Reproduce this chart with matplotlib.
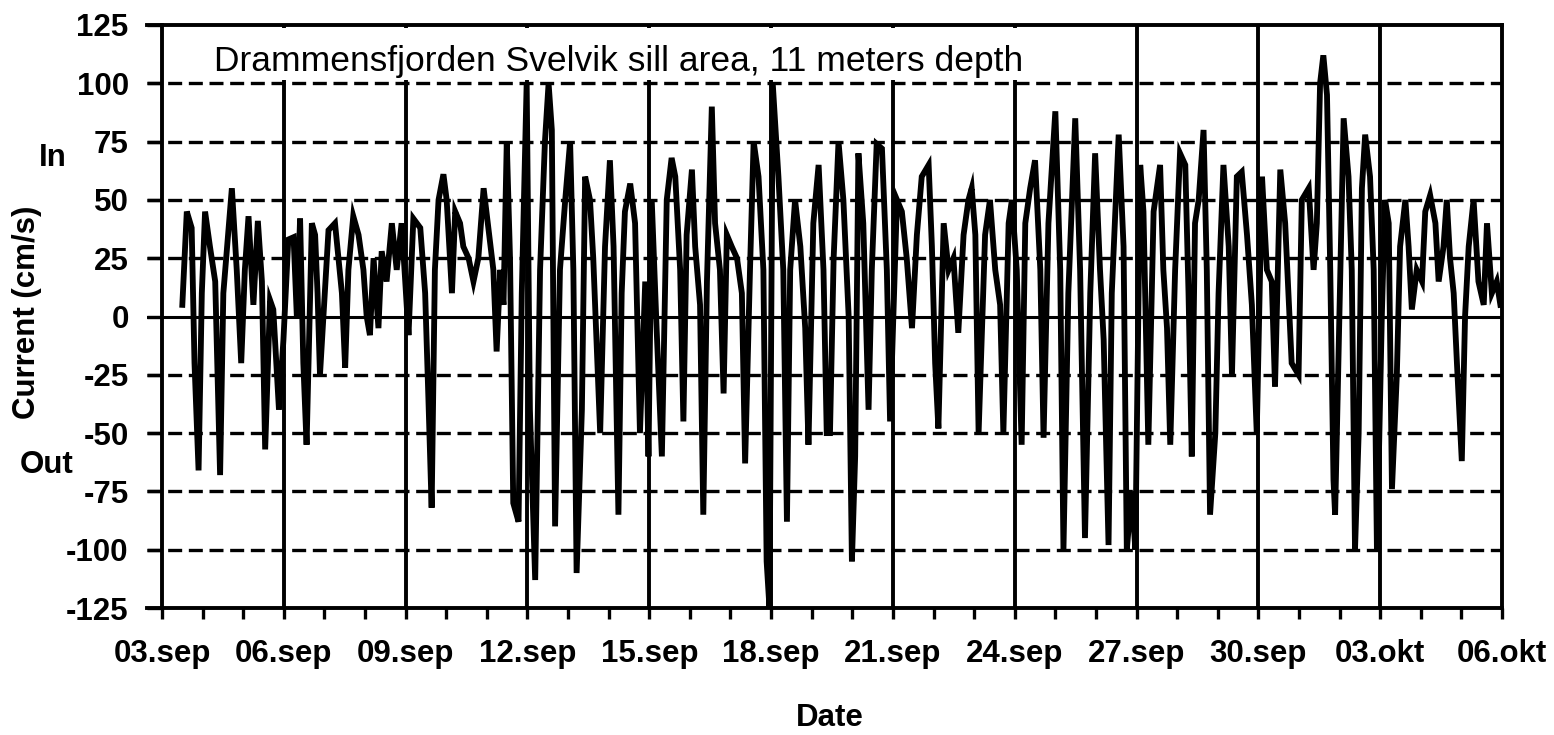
import matplotlib
matplotlib.use("Agg")
import matplotlib.pyplot as plt
from matplotlib.patches import Rectangle
from matplotlib.ticker import FixedLocator, MultipleLocator

# ---------------- data (days after 03.sep 00:00, current in cm/s) ----------------
days = [
    0.50, 0.61, 0.73, 0.80, 0.90, 0.98, 1.06, 1.18, 1.31, 1.43, 1.51, 1.72, 1.84, 1.95,
    2.04, 2.13, 2.25, 2.36, 2.46, 2.54, 2.66, 2.74, 2.88, 2.99, 3.11, 3.24, 3.32, 3.40,
    3.48, 3.56, 3.69, 3.77, 3.83, 3.89,
    4.10, 4.26, 4.43, 4.51, 4.59, 4.71, 4.84, 4.96, 5.04, 5.12, 5.21, 5.33, 5.41, 5.53,
    5.66, 5.78, 5.90, 5.99, 6.07, 6.19, 6.36, 6.48, 6.56, 6.64, 6.72, 6.81, 6.93, 7.01,
    7.14, 7.22, 7.34, 7.42, 7.55, 7.67, 7.79, 7.92,
    8.16, 8.24, 8.33, 8.41, 8.49, 8.57, 8.65, 8.78, 8.86, 8.98, 9.06, 9.19, 9.31, 9.43,
    9.52, 9.60, 9.68, 9.80, 9.93, 10.05, 10.13, 10.21, 10.34, 10.42, 10.54, 10.62, 10.79,
    10.91, 11.03, 11.12, 11.24, 11.32, 11.40, 11.53, 11.65, 11.77, 11.90, 11.98,
    12.06, 12.18, 12.31, 12.43, 12.55, 12.64, 12.76, 12.84, 12.92, 13.05, 13.13, 13.25,
    13.33, 13.42, 13.54, 13.62, 13.74, 13.83, 13.91, 14.03, 14.16, 14.28, 14.36, 14.48,
    14.57, 14.69, 14.81, 14.89, 14.96, 15.04, 15.18, 15.30, 15.39, 15.47, 15.59, 15.72,
    15.84, 15.92, 16.04,
    16.17, 16.29, 16.37, 16.45, 16.54, 16.66, 16.78, 16.91, 16.99, 17.07, 17.15, 17.27,
    17.40, 17.48, 17.60, 17.73, 17.85, 17.93, 18.10, 18.22, 18.34, 18.47, 18.59, 18.71,
    18.88, 18.96, 19.04, 19.12, 19.25, 19.37, 19.49, 19.61, 19.74, 19.86, 19.94, 20.03,
    20.11,
    20.27, 20.39, 20.52, 20.64, 20.72, 20.85, 20.93, 21.05, 21.17, 21.26, 21.38, 21.50,
    21.63, 21.71, 21.83, 22.00, 22.12, 22.20, 22.32, 22.49, 22.61, 22.73, 22.86, 22.98,
    23.10, 23.19, 23.31, 23.39, 23.56, 23.68, 23.76, 23.88, 23.97, 24.09, 24.17,
    24.29, 24.42, 24.58, 24.66, 24.75, 24.83, 24.95, 25.07, 25.20, 25.28, 25.36, 25.44,
    25.53, 25.65, 25.73, 25.81, 25.94, 26.02, 26.14, 26.27, 26.35, 26.47, 26.59, 26.72,
    26.84, 26.96, 27.09, 27.21, 27.33, 27.41, 27.54, 27.66, 27.74, 27.82, 27.99, 28.07,
    28.24,
    28.36, 28.44, 28.52, 28.60, 28.69, 28.77, 28.85, 28.89, 29.02, 29.10, 29.22, 29.30,
    29.38, 29.47, 29.55, 29.63, 29.75, 29.84, 29.92, 30.04, 30.12, 30.21, 30.29, 30.41,
    30.49, 30.62, 30.70, 30.78, 30.90, 31.03, 31.11, 31.23, 31.36, 31.44, 31.56, 31.64,
    31.72, 31.81, 31.89, 32.01, 32.09, 32.18, 32.30, 32.42, 32.55, 32.63, 32.75, 32.87,
    32.96,
]
current = [
    5, 45, 38, -20, -66, 10, 45, 30, 15, -68, 10, 55, 20, -20,
    20, 43, 5, 41, 15, -57, 7, 3, -40, -10, 33, 34, 0, 42,
    -20, -55, 40, 35, 10, -25,
    37, 40, 10, -22, 20, 43, 35, 20, 0, -8, 25, -5, 28, 15,
    40, 20, 40, 15, -8, 42, 38, 10, -35, -82, 20, 50, 61, 50,
    10, 45, 40, 30, 25, 15, 25, 55,
    20, -15, 20, 5, 75, 25, -80, -88, 10, 100, -40, -113, 20, 75,
    100, 80, -90, 20, 50, 75, 20, -110, -40, 60, 50, 25, -50,
    30, 67, 30, -85, 10, 45, 57, 40, -50, 15, -60,
    50, -5, -60, 50, 68, 60, 20, -45, 35, 63, 30, 5,
    -85, 15, 90, 40, 20, -33, 35, 30, 25, 10, -63, 20,
    75, 60, 20, -105, -125, 100, 60, 20, -88, 20, 50, 30,
    -5, -55, 40,
    65, 20, -50, -50, 25, 75, 50, 0, -105, -60, 70, 40,
    -40, 20, 74, 72, 20, -45, 50, 45, 25, -5, 35, 60,
    65, 30, -20, -48, 40, 20, 25, -7, 35, 50, 55, 35,
    -50,
    35, 50, 20, 5, -50, 40, 50, 20, -55, 40, 55, 67,
    20, -52, 40, 88, 20, -100, 10, 85, 20, -95, 10, 70,
    20, -10, -98, 10, 78, 30, -100, -75, -100, 65, 45,
    -55, 45, 65, 20, -5, -55, 20, 70, 65, 10, -60, 40,
    50, 80, 20, -85, -50, 10, 65, 30, -25, 60, 62, 35,
    5, -50, 60, 20, 15, -30, 63, 40, 10, -20, -25, 50,
    55,
    20, 40, 100, 112, 95, 20, -70, -85, 20, 85, 60, 20,
    -100, -50, 55, 78, 60, 20, -100, 0, 50, 40, -74, -25,
    30, 50, 30, 3, 20, 15, 45, 52, 40, 15, 30, 50,
    25, 10, -20, -62, 0, 30, 50, 15, 5, 40, 10, 15,
    5,
]

tick_days = [0, 3, 6, 9, 12, 15, 18, 21, 24, 27, 30, 33]
tick_labels = ["03.sep", "06.sep", "09.sep", "12.sep", "15.sep", "18.sep",
               "21.sep", "24.sep", "27.sep", "30.sep", "03.okt", "06.okt"]
y_ticks = [-125, -100, -75, -50, -25, 0, 25, 50, 75, 100, 125]
dash_levels = [-100, -75, -50, -25, 25, 50, 75, 100]
title = "Drammensfjorden Svelvik sill area, 11 meters depth"

# ---------------- figure ----------------
W, H = 1554, 735
fig = plt.figure(figsize=(W / 100, H / 100), dpi=100)
ax = fig.add_axes([147 / W, 1 - 608 / H, (1502 - 147) / W, (608 - 25) / H])

bold = dict(family="Liberation Sans", weight="bold", size=22.5)

ax.set_xlim(-0.37, 33.0)
ax.set_ylim(-125, 125)

# horizontal dashed gridlines and zero line
for lv in dash_levels:
    ax.axhline(lv, color="black", lw=2.4, dashes=(4.2, 2.0), zorder=1)
ax.axhline(0, color="black", lw=2.2, zorder=1)

# vertical gridlines at date ticks
for d in tick_days[1:-1]:
    ax.axvline(d, color="black", lw=2.8, zorder=1)

# white title box
ax.add_patch(Rectangle(((205 - 147) / 1355, (608 - 80) / 583), (1035 - 205) / 1355,
                       (80 - 28) / 583, transform=ax.transAxes, facecolor="white",
                       edgecolor="none", zorder=2))
ax.text((214 - 147) / 1355, (608 - 62) / 583, title, transform=ax.transAxes,
        family="Liberation Sans", size=25.5, ha="left", va="center", zorder=4)

# data
ax.plot(days, current, color="black", lw=4.2, solid_joinstyle="miter", zorder=3)

# spines
ax.spines["left"].set_position(("data", 0))
for s in ["left", "right", "top", "bottom"]:
    ax.spines[s].set_linewidth(2.8)
    ax.spines[s].set_zorder(5)

# ticks
ax.yaxis.set_major_locator(FixedLocator(y_ticks))
ax.set_yticklabels([str(v) for v in y_ticks], fontdict=bold)
ax.tick_params(axis="y", direction="out", length=11, width=2.4, pad=13)

ax.xaxis.set_major_locator(FixedLocator(tick_days))
ax.set_xticklabels(tick_labels, fontdict=bold)
ax.xaxis.set_minor_locator(MultipleLocator(1))
ax.tick_params(axis="x", which="both", direction="out", length=8, width=2.4, pad=14)

# axis texts
fig.text(27 / W, 1 - 312 / H, "Current (cm/s)", rotation=90, ha="center", va="center", **bold)
fig.text(53 / W, 1 - 158 / H, "In", ha="center", va="center", **bold)
fig.text(47 / W, 1 - 465 / H, "Out", ha="center", va="center", **bold)
fig.text(830 / W, 1 - 718 / H, "Date", ha="center", va="center", **bold)

fig.savefig("out.png", dpi=100, facecolor="white")
